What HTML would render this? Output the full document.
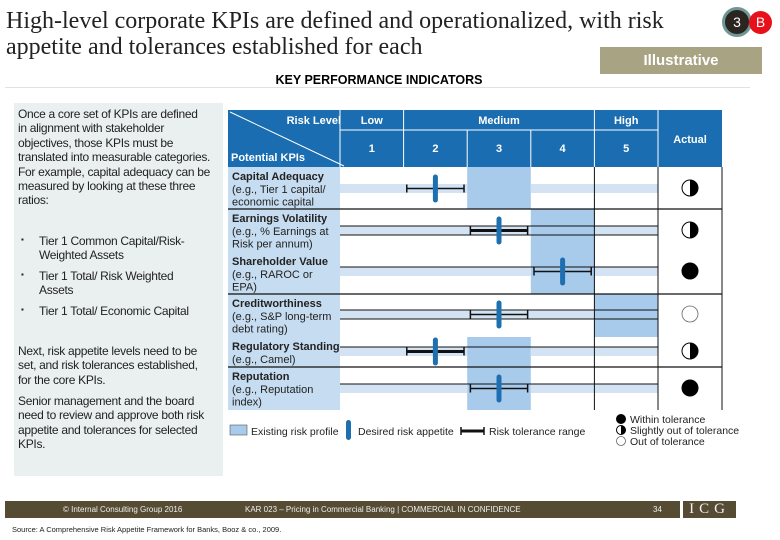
<!DOCTYPE html>
<html><head><meta charset="utf-8"><style>
body{margin:0;width:780px;height:540px;overflow:hidden;background:#fff;font-family:"Liberation Sans",sans-serif;position:relative}
.abs{position:absolute}
#title{left:6px;top:8px;font-family:"Liberation Serif",serif;font-size:24px;line-height:26px;color:#222;width:700px}
#left{left:14px;top:103px;width:209px;height:373px;background:#e9f0ef}
.lt{position:absolute;left:18px;font-size:12px;line-height:14.4px;color:#222;letter-spacing:-0.3px;white-space:nowrap}
.bl{position:absolute;left:21px;font-size:8px;color:#222}
</style></head><body>
<div id="title" class="abs">High-level corporate KPIs are defined and operationalized, with risk appetite and tolerances established for each</div>
<div class="abs" style="left:722px;top:7px;width:24px;height:24px;border-radius:50%;background:#2a2520;border:3px solid #6f9796;color:#fff;font-size:14px;text-align:center;line-height:24px">3</div>
<div class="abs" style="left:749px;top:11px;width:23px;height:23px;border-radius:50%;background:#e8101a;color:#fff;font-size:14px;text-align:center;line-height:23px">B</div>
<div class="abs" style="left:600px;top:47px;width:162px;height:27px;background:#a8a383;color:#fff;font-weight:bold;font-size:15px;text-align:center;line-height:27px">Illustrative</div>
<div class="abs" style="left:0;width:758px;top:73px;text-align:center;font-weight:bold;font-size:12.5px">KEY PERFORMANCE INDICATORS</div>
<div class="abs" style="left:5px;top:87px;width:745px;height:1px;background:#dde3e3"></div>
<div id="left" class="abs"></div>
<div class="lt" style="top:107px">Once a core set of KPIs are defined<br>in alignment with stakeholder<br>objectives, those KPIs must be<br>translated into measurable categories.<br>For example, capital adequacy can be<br>measured by looking at these three<br>ratios:</div>
<div class="bl" style="top:235px">▪</div>
<div class="lt" style="top:234px;left:39px">Tier 1 Common Capital/Risk-<br>Weighted Assets</div>
<div class="bl" style="top:270px">▪</div>
<div class="lt" style="top:269px;left:39px">Tier 1 Total/ Risk Weighted<br>Assets</div>
<div class="bl" style="top:305px">▪</div>
<div class="lt" style="top:304px;left:39px">Tier 1 Total/ Economic Capital</div>
<div class="lt" style="top:344px">Next, risk appetite levels need to be<br>set, and risk tolerances established,<br>for the core KPIs.</div>
<div class="lt" style="top:394px">Senior management and the board<br>need to review and approve both risk<br>appetite and tolerances for selected<br>KPIs.</div>
<svg class="abs" style="left:0;top:0" width="780" height="540" id="chart" font-family="Liberation Sans, sans-serif"></svg>
<div class="abs" style="left:5px;top:501px;width:675px;height:17px;background:#564b33;color:#eee;font-size:8px;line-height:17px">
<span class="abs" style="left:58px">© Internal Consulting Group 2016</span>
<span class="abs" style="left:240px">KAR 023 – Pricing in Commercial Banking | COMMERCIAL IN CONFIDENCE</span>
<span class="abs" style="left:648px">34</span></div>
<div class="abs" style="left:683px;top:501px;width:53px;height:17px;background:#564b33;color:#eee;font-family:'Liberation Serif',serif;font-size:15px;line-height:17px;text-align:center;letter-spacing:5px">ICG</div>
<div class="abs" style="left:12px;top:525px;font-size:7.5px;color:#222">Source: A Comprehensive Risk Appetite Framework for Banks, Booz &amp; co., 2009.</div>
<script>
const kpiNames=["Capital Adequacy","Earnings Volatility","Shareholder Value","Creditworthiness","Regulatory Standing","Reputation"];
const kpiSubs=[["(e.g., Tier 1 capital/","economic capital"],["(e.g., % Earnings at","Risk per annum)"],["(e.g., RAROC or","EPA)"],["(e.g., S&P long-term","debt rating)"],["(e.g., Camel)"],["(e.g., Reputation","index)"]];
const desired=[2,3,4,3,2,3];
const tolLow=[1.55,2.55,3.55,2.55,1.55,2.55];
const tolHigh=[2.45,3.45,4.45,3.45,2.45,3.45];
const existing=[3,4,4,5,3,3];
const actualStatus=["half","half","full","empty","half","full"];
const levels=[1,2,3,4,5];

const svg=document.getElementById('chart');
const NS="http://www.w3.org/2000/svg";
function mk(t,a,txt){const e=document.createElementNS(NS,t);for(const k in a)e.setAttribute(k,a[k]);if(txt!=null)e.textContent=txt;svg.appendChild(e);return e;}
const colW=63.6, x0=340;
function xCol(v){return x0+(v-0.5)*colW;}
const rowTop=[167,209,252,294,337,367], rowBot=[209,252,294,337,367,410];
const bandY=[184,226,267,310,347,384];
const X=xCol(0.5), XR=722, XA=xCol(5.5);
const h=mk('rect',{x:228,y:110,width:XR-228,height:57,fill:'#1a6db0'});


const lc=mk('rect',{x:228,y:167,width:X-228,height:243,fill:'#c6dcf0'});


mk('line',{x1:230,y1:112,x2:344,y2:166,stroke:'#fff','stroke-width':1});
function ht(x,y,s,anch,nm){const t=mk('text',{x:x,y:y,fill:'#fff','font-size':11,'font-weight':'bold','text-anchor':anch||'middle'},s);

}
ht(341,124,'Risk Level','end','risk-level-label');
ht(231,161,'Potential KPIs','start','potential-kpis-label');
ht(xCol(1),124,'Low','middle','low-label');
ht(xCol(3),124,'Medium','middle','medium-label');
ht(xCol(5),124,'High','middle','high-label');
ht((XA+XR)/2,143,'Actual','middle','actual-label');
levels.forEach(l=>ht(xCol(l),152,String(l),'middle','level-'+l));
mk('line',{x1:X,y1:130,x2:XA,y2:130,stroke:'#fff'});
[0.5,1.5,4.5,5.5].forEach(v=>mk('line',{x1:xCol(v),y1:110,x2:xCol(v),y2:167,stroke:'#fff'}));
[2.5,3.5].forEach(v=>mk('line',{x1:xCol(v),y1:130,x2:xCol(v),y2:167,stroke:'#fff'}));
existing.forEach((v,i)=>{const r=mk('rect',{x:xCol(v-0.5),y:rowTop[i],width:colW,height:rowBot[i]-rowTop[i],fill:'#a8caeb'});

});
bandY.forEach((y,i)=>{
 const segs=[[X,xCol(existing[i]-0.5)],[xCol(existing[i]+0.5),XA]];
 segs.forEach(s=>{if(s[1]>s[0])mk('rect',{x:s[0],y:y,width:s[1]-s[0],height:9,fill:'#d3e3f3'});});
 if(i>0)mk('line',{x1:X,y1:y,x2:XA,y2:y,stroke:'#111','stroke-width':1});
 if(i==1||i==3)mk('line',{x1:X,y1:y+9,x2:XA,y2:y+9,stroke:'#111','stroke-width':1});
});
[209,294,367].forEach(y=>mk('line',{x1:228,y1:y,x2:XR,y2:y,stroke:'#111','stroke-width':1.2}));
[4.5,5.5].forEach(v=>mk('line',{x1:xCol(v),y1:167,x2:xCol(v),y2:410,stroke:'#111'}));
mk('line',{x1:XR,y1:167,x2:XR,y2:410,stroke:'#111'});
kpiNames.forEach((n,i)=>{
 const t=mk('text',{x:232,y:rowTop[i]+13,'font-size':11,'font-weight':'bold',fill:'#222'},n);
 
 
 kpiSubs[i].forEach((s,j)=>{const u=mk('text',{x:232,y:rowTop[i]+26+j*12.5,'font-size':11,fill:'#222'},s);
 
 });
});
desired.forEach((v,i)=>{
 const y=bandY[i]+4.5, a=xCol(tolLow[i]), b=xCol(tolHigh[i]);
 const thick=(i==1||i==4)?3:1.5;
 const g=mk('line',{x1:a,y1:y,x2:b,y2:y,stroke:'#111','stroke-width':thick});
 
 
 mk('line',{x1:a,y1:y-4,x2:a,y2:y+4,stroke:'#111','stroke-width':1.5});
 mk('line',{x1:b,y1:y-4,x2:b,y2:y+4,stroke:'#111','stroke-width':1.5});
 const d=mk('rect',{x:xCol(v)-2.5,y:y-14,width:5,height:28,rx:2.5,fill:'#1e6fb0'});
 
 
});
function statusCircle(cx,cy,r,st,nm){
 const c=mk('circle',{cx:cx,cy:cy,r:r,fill:st=='full'?'#000':'#fff',stroke:st=='empty'?'#666':'#000','stroke-width':st=='empty'?0.8:1});
 
 
 if(st=='half')mk('path',{d:`M${cx},${cy-r} A${r},${r} 0 0 1 ${cx},${cy+r} Z`,fill:'#000'});
}
actualStatus.forEach((s,i)=>statusCircle((XA+XR)/2,bandY[i]+4,8,s,'actual-status-'+(i+1)));
let r=mk('rect',{x:230,y:425,width:17,height:10,fill:'#a8caeb',stroke:'#555','stroke-width':0.6});


function lt(x,y,s,nm,fs){const t=mk('text',{x:x,y:y,'font-size':fs||11,fill:'#222'},s);

}
lt(251,435,'Existing risk profile','legend-existing',10.5);
mk('rect',{x:346,y:420,width:5,height:20,rx:2.5,fill:'#1e6fb0'});
lt(358,435,'Desired risk appetite','legend-desired',10.5);
mk('line',{x1:461,y1:431,x2:484,y2:431,stroke:'#111','stroke-width':3});
mk('line',{x1:461,y1:427,x2:461,y2:435,stroke:'#111','stroke-width':1.5});
mk('line',{x1:484,y1:427,x2:484,y2:435,stroke:'#111','stroke-width':1.5});
lt(489,435,'Risk tolerance range','legend-tolerance',10.5);
statusCircle(621,419,4.5,'full','legend-within-icon');
lt(630,423,'Within tolerance','legend-within',10.5);
statusCircle(621,430,4.5,'half','legend-slight-icon');
lt(630,434,'Slightly out of tolerance','legend-slight',10.5);
statusCircle(621,441,4.5,'empty','legend-out-icon');
lt(630,445,'Out of tolerance','legend-out',10.5);
</script>
</body></html>
